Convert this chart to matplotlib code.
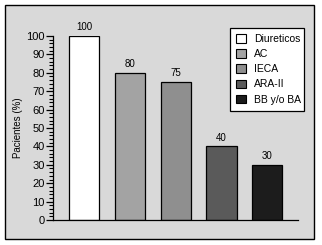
import matplotlib
matplotlib.use("Agg")
import matplotlib.pyplot as plt
import matplotlib.patches as mpatches
from matplotlib.ticker import MultipleLocator

plt.rcParams["font.family"] = ["Liberation Sans", "DejaVu Sans"]

categories = ["Diureticos", "AC", "IECA", "ARA-II", "BB y/o BA"]
values = [100, 80, 75, 40, 30]
colors = ["#ffffff", "#a3a3a3", "#8f8f8f", "#5a5a5a", "#1c1c1c"]

W, H = 322, 245
fig = plt.figure(figsize=(W / 100, H / 100), dpi=100)
fig.patch.set_facecolor("white")

# grey panel with black frame behind everything
frame = mpatches.Rectangle((5 / W, (H - 239) / H), 309 / W, 234 / H,
                           transform=fig.transFigure, facecolor="#d9d9d9",
                           edgecolor="black", linewidth=1.0, zorder=-5)
fig.patches.append(frame)

ax = fig.add_axes([53 / W, 25 / H, 245 / W, 184 / H])
ax.set_facecolor("none")
ax.set_zorder(2)

x = range(len(values))
bars = ax.bar(x, values, width=0.66, color=colors, edgecolor="black", linewidth=0.9)
for xi, v in zip(x, values):
    ax.text(xi, v + 2, str(v), ha="center", va="bottom", fontsize=7, clip_on=False)

ax.set_xlim(-0.68, 4.67)
ax.set_ylim(0, 100)
ax.yaxis.set_major_locator(MultipleLocator(10))
ax.yaxis.set_minor_locator(MultipleLocator(2))
ax.tick_params(axis="y", which="major", length=5, width=0.9, labelsize=8, pad=1)
ax.tick_params(axis="y", which="minor", length=3, width=0.8)
ax.set_xticks([])
ax.spines["top"].set_visible(False)
ax.spines["right"].set_visible(False)
ax.spines["left"].set_linewidth(0.9)
ax.spines["bottom"].set_linewidth(0.9)
ax.set_ylabel("Pacientes (%)", fontsize=7, labelpad=2)

handles = [mpatches.Patch(facecolor=c, edgecolor="black", linewidth=0.8, label=l)
           for c, l in zip(colors, categories)]
leg = fig.legend(handles=handles, loc="upper left",
                 bbox_to_anchor=(230 / W, 1 - 30 / H, 74 / W, 0.01),
                 mode="expand", fontsize=7.5, frameon=True, fancybox=False,
                 handlelength=0.9, handleheight=0.9, handletextpad=0.8,
                 labelspacing=0.5, borderpad=0.6, borderaxespad=0)
leg.set_zorder(3)
leg.get_frame().set_edgecolor("black")
leg.get_frame().set_linewidth(0.9)
leg.get_frame().set_facecolor("white")
leg.get_frame().set_alpha(1)

fig.savefig("out.png", dpi=100)
